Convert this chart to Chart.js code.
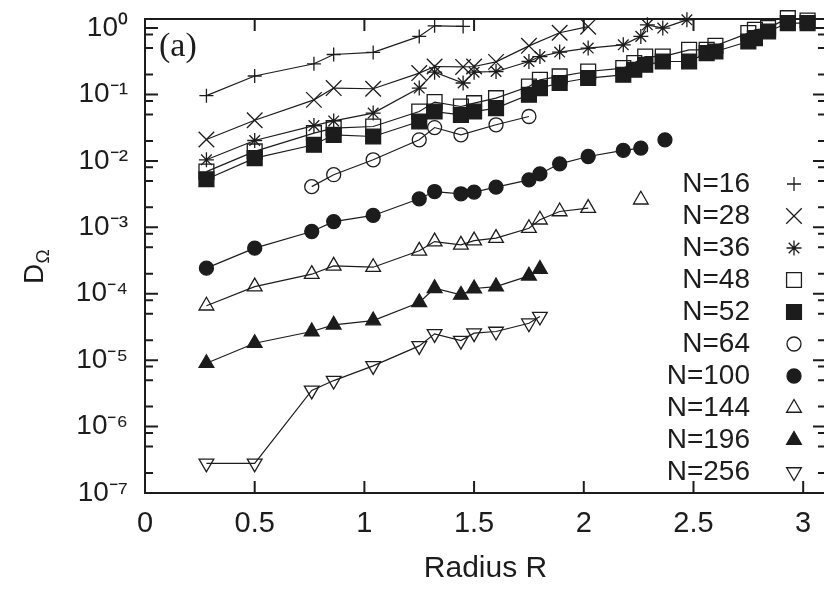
<!DOCTYPE html>
<html lang="en">
<head>
<meta charset="UTF-8">
<title>D_Omega vs Radius R</title>
<script src="https://cdn.jsdelivr.net/npm/chart.js"></script>
<style>
  html, body { margin: 0; padding: 0; background: #fff; overflow: hidden; }
  #wrap { width: 830px; height: 589px; }
</style>
</head>
<body>
<div id="wrap"><canvas id="chart" width="830" height="589"></canvas></div>
<script>
// ---- data (R, D_Omega) ----
const names = ['N=16', 'N=28', 'N=36', 'N=48', 'N=52', 'N=64', 'N=100', 'N=144', 'N=196', 'N=256'];

const r16 = [0.28, 0.5, 0.77, 0.86, 1.04, 1.25, 1.32, 1.45];
const d16 = [0.096, 0.19, 0.29, 0.40, 0.43, 0.75, 1.08, 1.06];

const r28 = [0.28, 0.5, 0.77, 0.86, 1.04, 1.25, 1.32, 1.45, 1.5, 1.6, 1.75, 1.89, 2.02];
const d28 = [0.021, 0.041, 0.083, 0.125, 0.122, 0.21, 0.264, 0.26, 0.264, 0.31, 0.54, 0.85, 1.05];

const r36 = [0.28, 0.5, 0.77, 0.86, 1.04, 1.25, 1.32, 1.45, 1.5, 1.6, 1.75, 1.8, 1.89, 2.02, 2.18, 2.26, 2.29, 2.36, 2.47];
const d36 = [0.0104, 0.0203, 0.034, 0.040, 0.0525, 0.125, 0.217, 0.149, 0.217, 0.222, 0.314, 0.373, 0.435, 0.5, 0.56, 0.75, 1.12, 1.0, 1.33];

const r48 = [0.28, 0.5, 0.77, 0.86, 1.04, 1.25, 1.32, 1.44, 1.5, 1.6, 1.75, 1.8, 1.89, 2.02, 2.18, 2.23, 2.28, 2.36, 2.48, 2.56, 2.6, 2.75, 2.78, 2.84, 2.93, 3.02];
const d48 = [0.0069, 0.0139, 0.0262, 0.0312, 0.033, 0.0554, 0.077, 0.066, 0.074, 0.088, 0.132, 0.166, 0.187, 0.222, 0.25, 0.297, 0.373, 0.373, 0.471, 0.471, 0.541, 0.84, 0.94, 1.0, 1.41, 1.3];

const r52 = [0.28, 0.5, 0.77, 0.86, 1.04, 1.25, 1.32, 1.44, 1.5, 1.6, 1.75, 1.8, 1.89, 2.02, 2.18, 2.23, 2.28, 2.36, 2.48, 2.56, 2.6, 2.75, 2.78, 2.84, 2.93, 3.02];
const d52 = [0.0053, 0.011, 0.0175, 0.0247, 0.0233, 0.0392, 0.0554, 0.0494, 0.0554, 0.0624, 0.099, 0.125, 0.149, 0.177, 0.198, 0.236, 0.28, 0.314, 0.314, 0.42, 0.444, 0.628, 0.707, 0.889, 1.19, 1.19];

const r64 = [0.76, 0.86, 1.04, 1.25, 1.32, 1.44, 1.6, 1.75];
const d64 = [0.0041, 0.0062, 0.0104, 0.0208, 0.0318, 0.0247, 0.035, 0.0466];

const r100 = [0.28, 0.5, 0.76, 0.86, 1.04, 1.25, 1.32, 1.44, 1.5, 1.6, 1.75, 1.8, 1.89, 2.02, 2.18, 2.26, 2.3, 2.37];
const d100 = [2.43e-4, 4.86e-4, 8.65e-4, 1.22e-3, 1.51e-3, 2.69e-3, 3.46e-3, 3.2e-3, 3.39e-3, 4.03e-3, 5.19e-3, 6.39e-3, 9.04e-3, 0.01165, 0.0144, 0.0156, null, 0.0208];

const r144 = [0.28, 0.5, 0.76, 0.86, 1.04, 1.25, 1.32, 1.44, 1.5, 1.6, 1.75, 1.8, 1.89, 2.02, 2.1, 2.26];
const d144 = [6.6e-5, 1.28e-4, 1.97e-4, 2.63e-4, 2.51e-4, 4.43e-4, 6.1e-4, 5.45e-4, 6.3e-4, 6.88e-4, 9.7e-4, 1.3e-3, 1.73e-3, 1.95e-3, null, 2.6e-3];

const r196 = [0.28, 0.5, 0.76, 0.86, 1.04, 1.25, 1.32, 1.44, 1.5, 1.6, 1.75, 1.8];
const d196 = [9.0e-6, 1.8e-5, 2.7e-5, 3.4e-5, 3.95e-5, 7.4e-5, 1.21e-4, 9.6e-5, 1.2e-4, 1.28e-4, 1.86e-4, 2.35e-4];

const r256 = [0.28, 0.5, 0.76, 0.86, 1.04, 1.25, 1.32, 1.44, 1.5, 1.6, 1.75, 1.8];
const d256 = [2.8e-7, 2.8e-7, 3.5e-6, 4.93e-6, 8.2e-6, 1.64e-5, 2.49e-5, 1.97e-5, 2.55e-5, 2.7e-5, 3.6e-5, 4.54e-5];

const xTicks = [0, 0.5, 1, 1.5, 2, 2.5, 3];
const yExp = [0, -1, -2, -3, -4, -5, -6, -7];
const yMinorMult = [2, 5, 8];

// ---- marker styles (gnuplot-like symbols) ----
const OPEN = 'rgba(0,0,0,0)';
const INK = '#1c1c1c';
const styles = [
  { pointStyle: 'cross',    radius: 7,    fill: OPEN, rotation: 0 },
  { pointStyle: 'crossRot', radius: 11,   fill: OPEN, rotation: 0 },
  { pointStyle: 'star',     radius: 7.5,  fill: OPEN, rotation: 0 },
  { pointStyle: 'rect',     radius: 10.5, fill: OPEN, rotation: 0 },
  { pointStyle: 'rect',     radius: 10.5, fill: INK,  rotation: 0 },
  { pointStyle: 'circle',   radius: 7,    fill: OPEN, rotation: 0 },
  { pointStyle: 'circle',   radius: 7,    fill: INK,  rotation: 0 },
  { pointStyle: 'triangle', radius: 8.5,  fill: OPEN, rotation: 0 },
  { pointStyle: 'triangle', radius: 8.5,  fill: INK,  rotation: 0 },
  { pointStyle: 'triangle', radius: 8.5,  fill: OPEN, rotation: 180 }
];

const xs = [r16, r28, r36, r48, r52, r64, r100, r144, r196, r256];
const ys = [d16, d28, d36, d48, d52, d64, d100, d144, d196, d256];

const datasets = names.map((name, i) => ({
  label: name,
  data: xs[i].map((r, k) => ({ x: r, y: ys[i][k] })),
  borderColor: INK,
  borderWidth: 1.2,
  backgroundColor: styles[i].fill,
  pointStyle: styles[i].pointStyle,
  pointRadius: styles[i].radius,
  pointRotation: styles[i].rotation,
  pointBorderColor: INK,
  pointBackgroundColor: styles[i].fill,
  pointBorderWidth: 1.3,
  spanGaps: false,
  clip: false,
  tension: 0
}));

const SANS = "'Liberation Sans', Arial, Helvetica, sans-serif";
const SUP = { '-': '\u207B', '0': '\u2070', '1': '\u00B9', '2': '\u00B2', '3': '\u00B3',
              '4': '\u2074', '5': '\u2075', '6': '\u2076', '7': '\u2077' };
const yLabel = e => '10' + String(e).split('').map(c => SUP[c]).join('');

// no automatic room for overhanging tick labels: the frame is fixed
const noPad = s => { s.paddingTop = 0; s.paddingBottom = 0; s.paddingLeft = 0; s.paddingRight = 0; };

// frame, inward ticks, legend, y title and panel tag
const overlay = {
  id: 'overlay',
  afterDraw(chart) {
    const { ctx, chartArea: a, scales: { x, y } } = chart;
    ctx.save();
    ctx.strokeStyle = INK;
    ctx.lineWidth = 2;
    ctx.strokeRect(a.left, a.top, a.right - a.left, a.bottom - a.top);

    ctx.beginPath();
    xTicks.forEach(v => {
      const px = x.getPixelForValue(v);
      ctx.moveTo(px, a.bottom); ctx.lineTo(px, a.bottom - 12);
      ctx.moveTo(px, a.top); ctx.lineTo(px, a.top + 12);
    });
    yExp.forEach(e => {
      const py = y.getPixelForValue(Math.pow(10, e));
      ctx.moveTo(a.left, py); ctx.lineTo(a.left + 13, py);
      ctx.moveTo(a.right, py); ctx.lineTo(a.right - 13, py);
      yMinorMult.forEach(m => {
        const v = m * Math.pow(10, e - 1);
        if (v < 1e-7) return;
        const pm = y.getPixelForValue(v);
        ctx.moveTo(a.left, pm); ctx.lineTo(a.left + 8, pm);
        ctx.moveTo(a.right, pm); ctx.lineTo(a.right - 8, pm);
      });
    });
    ctx.stroke();

    // legend
    ctx.font = '28px ' + SANS;
    ctx.textAlign = 'right';
    ctx.textBaseline = 'middle';
    names.forEach((n, i) => {
      const ly = 184 + i * 32;
      ctx.fillStyle = INK;
      ctx.fillText(n, 750, ly);
      const s = styles[i];
      ctx.fillStyle = s.fill;
      ctx.strokeStyle = INK;
      ctx.lineWidth = 1.3;
      Chart.helpers.drawPoint(ctx, {
        pointStyle: s.pointStyle, radius: s.radius, rotation: s.rotation, borderWidth: 1.3
      }, 794, ly);
    });

    // y-axis title D_Omega
    ctx.save();
    ctx.fillStyle = INK;
    ctx.translate(43, 284);
    ctx.rotate(-Math.PI / 2);
    ctx.textAlign = 'left';
    ctx.textBaseline = 'alphabetic';
    ctx.font = '28px ' + SANS;
    ctx.fillText('D', 0, 0);
    ctx.font = '19px ' + SANS;
    ctx.fillText('\u03A9', 20.5, 6);
    ctx.restore();

    // panel tag
    ctx.font = "34px 'Liberation Serif', 'Times New Roman', serif";
    ctx.textAlign = 'left';
    ctx.textBaseline = 'alphabetic';
    ctx.fillStyle = INK;
    ctx.fillText('(a)', 159, 56);
    ctx.restore();
  }
};

new Chart(document.getElementById('chart'), {
  type: 'line',
  data: { datasets },
  options: {
    responsive: false,
    animation: false,
    devicePixelRatio: 1,
    layout: { autoPadding: false, padding: { top: 19, right: 4, left: 0, bottom: 0 } },
    plugins: { legend: { display: false }, tooltip: { enabled: false } },
    scales: {
      x: {
        type: 'linear',
        min: 0,
        max: 3.104,
        afterBuildTicks: s => { s.ticks = xTicks.map(v => ({ value: v })); },
        afterFit: s => { s.height = 96; noPad(s); },
        grid: { display: false, drawTicks: false },
        border: { display: false },
        ticks: {
          color: INK,
          padding: 14,
          maxRotation: 0,
          font: { family: SANS, size: 29 },
          callback: v => String(v)
        },
        title: {
          display: true,
          text: 'Radius R',
          color: INK,
          font: { family: SANS, size: 30 },
          padding: { top: 0, bottom: 2 }
        }
      },
      y: {
        type: 'logarithmic',
        min: 1e-7,
        max: 1.37,
        afterBuildTicks: s => { s.ticks = yExp.map(e => ({ value: Math.pow(10, e) })); },
        afterFit: s => { s.width = 145; noPad(s); },
        grid: { display: false, drawTicks: false },
        border: { display: false },
        ticks: {
          color: INK,
          padding: 17,
          font: { family: SANS, size: 28 },
          callback: v => yLabel(Math.round(Math.log10(v)))
        }
      }
    }
  },
  plugins: [overlay]
});
</script>
</body>
</html>
